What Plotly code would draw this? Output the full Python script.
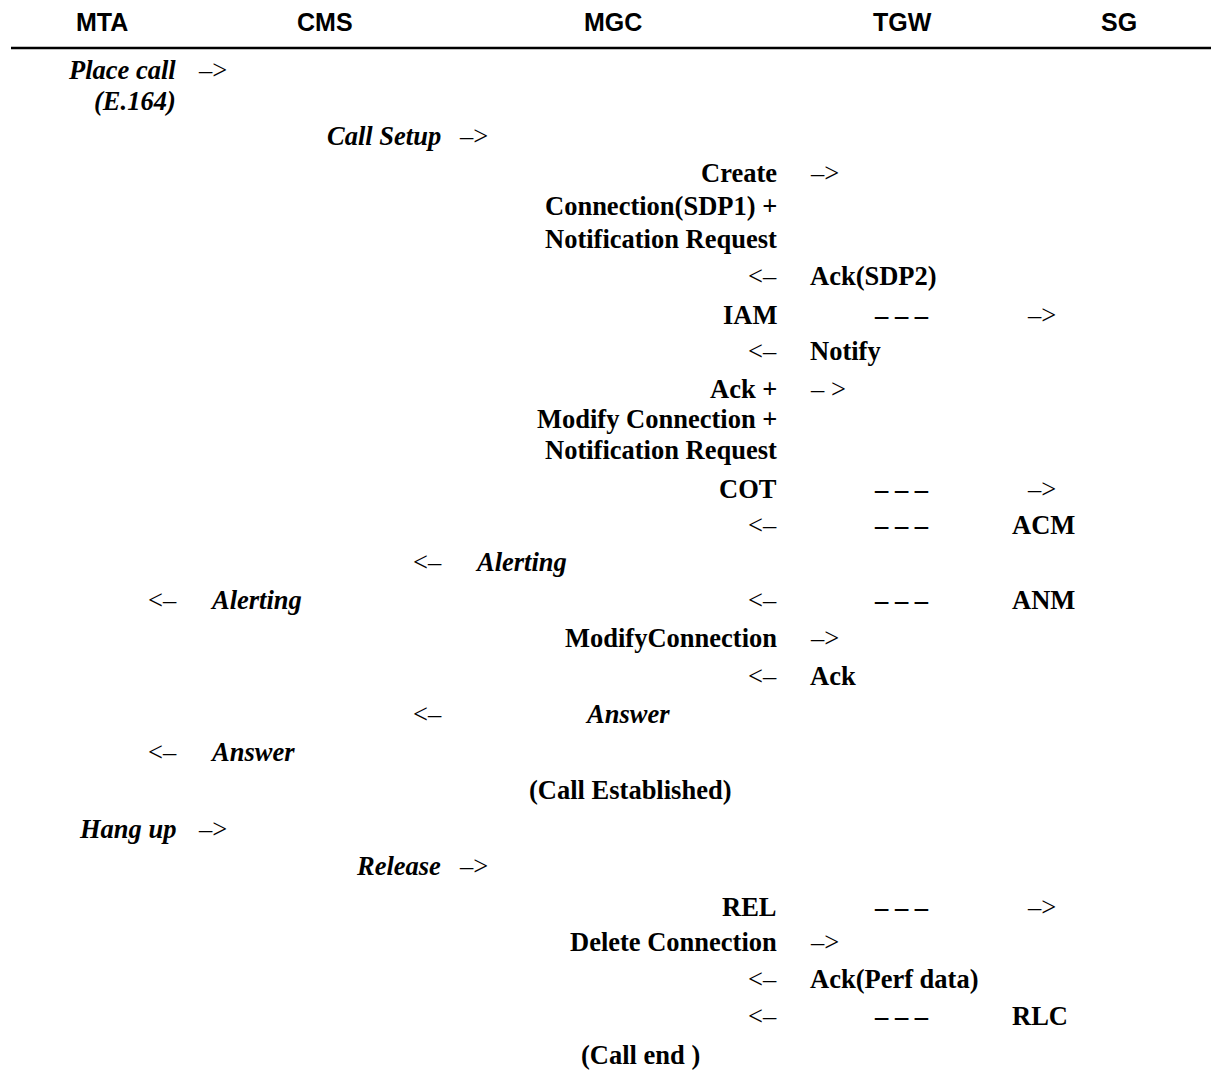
import plotly.graph_objects as go

W, H = 1219, 1070
OFF = 8  # page body margin of the browser

# ---- data: entities (header) ----
entities = ["MTA", "CMS", "MGC", "TGW", "SG"]

# ---- data: message flow, one entry per text item ----
# row index (display order), column slot, text
msg_rows = [0, 0,
            1,
            2, 2,
            3, 3,
            4,
            5,
            6, 6,
            7, 7, 7,
            8, 8,
            9, 9,
            10,
            11,
            12, 12, 12,
            13, 13, 13,
            14, 14,
            15, 15, 15, 15, 15,
            16, 16,
            17, 17,
            18, 18,
            19, 19,
            20,
            21, 21,
            22, 22,
            23, 23, 23,
            24, 24,
            25, 25,
            26, 26, 26,
            27]
msg_slots = ["mta_r", "mta_arr",
             "mta_r",
             "cms_r", "cms_arr",
             "mgc_r", "tgw_arr",
             "mgc_r",
             "mgc_r",
             "mgc_l", "tgw_txt",
             "mgc_r", "dash", "sg_arr",
             "mgc_l", "tgw_txt",
             "mgc_r", "tgw_arr",
             "mgc_r",
             "mgc_r",
             "mgc_r", "dash", "sg_arr",
             "mgc_l", "dash", "sg_txt",
             "cms_l", "cms_txt",
             "mta_l", "mta_txt", "mgc_l", "dash", "sg_txt",
             "mgc_r", "tgw_arr",
             "mgc_l", "tgw_txt",
             "cms_l", "answer",
             "mta_l", "mta_txt",
             "center",
             "mta_r", "mta_arr",
             "cms_r", "cms_arr",
             "mgc_r", "dash", "sg_arr",
             "mgc_r", "tgw_arr",
             "mgc_l", "tgw_txt",
             "mgc_l", "dash", "sg_txt",
             "center_end"]
msg_texts = ["Place call", "–>",
             "(E.164)",
             "Call Setup", "–>",
             "Create", "–>",
             "Connection(SDP1) +",
             "Notification Request",
             "<–", "Ack(SDP2)",
             "IAM", "– – –", "–>",
             "<–", "Notify",
             "Ack +", "– >",
             "Modify Connection +",
             "Notification Request",
             "COT", "– – –", "–>",
             "<–", "– – –", "ACM",
             "<–", "Alerting",
             "<–", "Alerting", "<–", "– – –", "ANM",
             "ModifyConnection", "–>",
             "<–", "Ack",
             "<–", "Answer",
             "<–", "Answer",
             "(Call Established)",
             "Hang up", "–>",
             "Release", "–>",
             "REL", "– – –", "–>",
             "Delete Connection", "–>",
             "<–", "Ack(Perf data)",
             "<–", "– – –", "RLC",
             "(Call end )"]
italic_texts = ["Place call", "(E.164)", "Call Setup", "Alerting", "Answer",
                "Hang up", "Release"]
arrow_texts = ["–>", "<–", "– >"]

# ---- layout constants (screen pixels) ----
header_x = [102, 325, 613, 902, 1119]
header_y = 22
rule_y = 48
row_y = [70, 101, 136, 173, 206, 239, 276, 315, 351, 389, 419, 450, 489, 525,
         562, 600, 638, 676, 714, 752, 790, 829, 866, 907, 942, 979, 1016, 1055]
slot_pos = {
    "mta_r": (178, "right"), "mta_arr": (196, "left"), "mta_l": (179, "right"),
    "mta_txt": (208, "left"),
    "cms_r": (443, "right"), "cms_arr": (457, "left"), "cms_l": (444, "right"),
    "cms_txt": (473, "left"),
    "mgc_r": (779, "right"), "mgc_l": (779, "right"),
    "tgw_arr": (808, "left"), "tgw_txt": (808, "left"),
    "dash": (901, "center"), "sg_arr": (1025, "left"), "sg_txt": (1010, "left"),
    "center": (630, "center"), "center_end": (640, "center"), "answer": (583, "left"),
}
SERIF = "Liberation Serif, Times New Roman, serif"
SANS = "Liberation Sans, Arial, sans-serif"
BODY_SIZE = 26.5
HEAD_SIZE = 25

fig = go.Figure()
fig.add_trace(go.Scatter(x=[OFF, W], y=[OFF, H], mode="markers",
                         marker=dict(opacity=0), hoverinfo="skip", showlegend=False))

for name, hx in zip(entities, header_x):
    fig.add_annotation(x=hx, y=header_y, text="<b>%s</b>" % name, showarrow=False,
                       xanchor="center", yanchor="middle", borderpad=0,
                       font=dict(family=SANS, size=HEAD_SIZE, color="black"))

fig.add_shape(type="line", x0=11, x1=W + OFF, y0=rule_y, y1=rule_y,
              line=dict(color="black", width=2.5))

for r, s, t in zip(msg_rows, msg_slots, msg_texts):
    x, anc = slot_pos[s]
    if t in arrow_texts:
        label = t
    elif t in italic_texts:
        label = "<b><i>%s</i></b>" % t
    else:
        label = "<b>%s</b>" % t
    fig.add_annotation(x=x, y=row_y[r], text=label, showarrow=False,
                       xanchor=anc, yanchor="middle",
                       font=dict(family=SERIF, size=BODY_SIZE, color="black"))

# axis ranges chosen so that data units equal screen pixels (page offset compensated)
fig.update_xaxes(range=[OFF, W + OFF], visible=False, fixedrange=True)
fig.update_yaxes(range=[H + OFF, OFF], visible=False, fixedrange=True)
fig.update_layout(width=W, height=H, margin=dict(l=0, r=0, t=0, b=0),
                  plot_bgcolor="white", paper_bgcolor="white")

fig.write_html("out.html")
